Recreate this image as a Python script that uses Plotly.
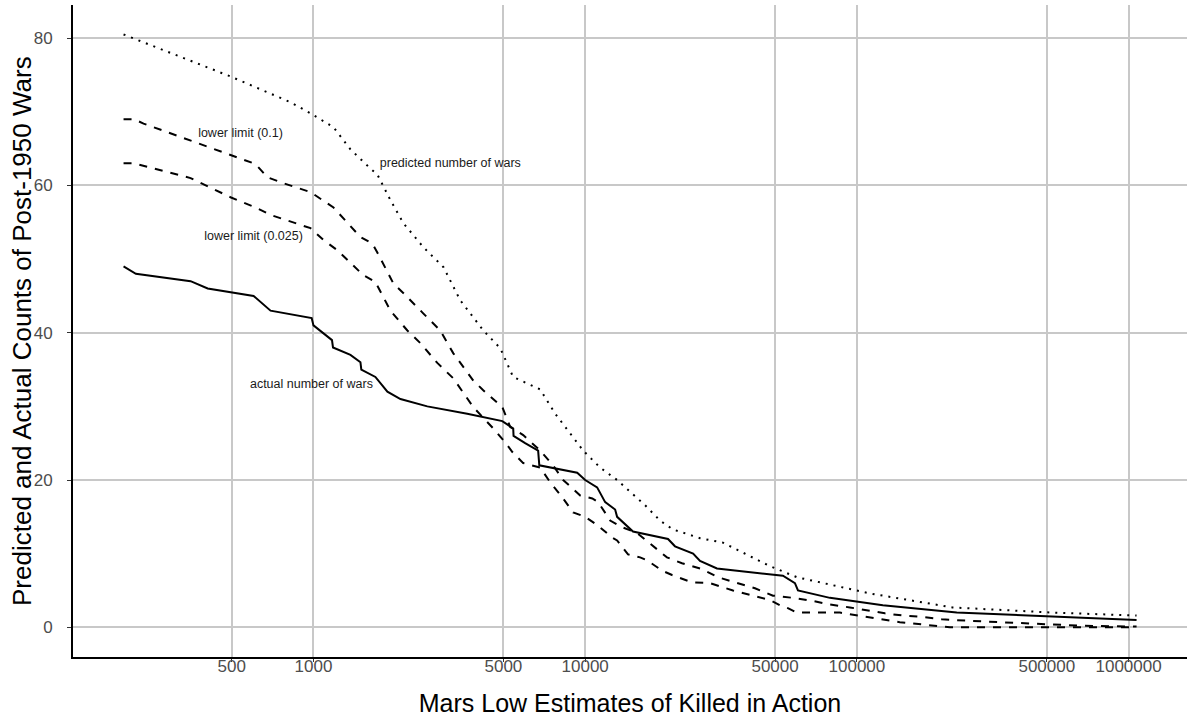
import plotly.graph_objects as go

# ---- data ----
actual_kia = [200, 222, 353, 408, 602, 649, 695, 985, 1000, 1170, 1180, 1368, 1489, 1500, 1690,
              1871, 2090, 2624, 3681, 4955, 5435, 5450, 6012, 6713, 6780, 9346, 10000, 11066,
              11846, 12890, 13110, 15000, 20180, 21410, 24960, 26470, 30550, 53430, 59160,
              60700, 79580, 124600, 233100, 1070000]
actual_wars = [49, 48, 47, 46, 45, 44, 43, 42, 41, 39, 38, 37, 36, 35, 34,
               32, 31, 30, 29, 28, 27, 26, 25, 24, 22, 21, 20, 19,
               17, 16, 15, 13, 12, 11, 10, 9, 8, 7, 6,
               5, 4, 3, 2, 1]

pred_kia = [200, 495, 823, 975, 1185, 1368, 1620, 1718, 1920, 2140, 2540, 3010, 3470, 4220,
            4870, 5430, 6830, 7760, 9830, 11350, 13110, 16600, 18850, 21020, 26470, 32130,
            47900, 60200, 111500, 225000, 525000, 1070000]
pred_wars = [80.5, 74.8, 71.3, 69.8, 67.9, 64.9, 62.3, 61.5, 58.0, 54.9, 51.6, 48.9, 44.4, 40.3,
             37.9, 34.0, 32.3, 29.0, 24.0, 21.7, 20.0, 16.6, 14.5, 13.3, 12.1, 11.5,
             8.3, 6.8, 4.6, 2.7, 2.0, 1.6]

low10_kia = [200, 218, 237, 602, 622, 678, 776, 975, 1185, 1489, 1648, 1718, 1968, 2140, 2540,
             2929, 3272, 3875, 4215, 4955, 5300, 5915, 6830, 7620, 8300, 9590, 10620, 11170,
             12360, 13680, 15530, 17630, 20000, 22720, 26930, 30810, 36520, 42170, 49110,
             58170, 68350, 79580, 94220, 108800, 126800, 147600, 174900, 205300, 225400,
             335700, 503900, 688800, 1070000]
low10_wars = [69, 69, 68.4, 63, 62.6, 61.1, 60.3, 59.1, 57, 53, 52.1, 50.9, 46.7, 45.4, 42.6,
              40.3, 37.2, 33.5, 32.2, 29.9, 27.2, 26.1, 24, 22, 20, 17.9, 17.5, 17,
              14.5, 13.6, 12.8, 11.1, 9.5, 8.7, 7.9, 6.8, 6.0, 5.3, 4.3,
              4.0, 3.6, 3.1, 2.7, 2.3, 1.9, 1.6, 1.4, 1.1, 1.0,
              0.7, 0.4, 0.2, 0.1]

low025_kia = [200, 218, 353, 495, 612, 695, 975, 1088, 1225, 1527, 1690, 1920, 2216, 2472, 2856,
              3272, 3875, 4590, 5080, 5395, 5915, 6830, 7430, 8220, 9030, 10000, 11066, 12560,
              13110, 14380, 15930, 16900, 19190, 20880, 24720, 28810, 34990, 41490, 47900,
              52120, 55720, 60090, 86600, 143900, 219800, 1070000]
low025_wars = [63, 63, 61, 58.4, 57, 56, 54.2, 52.6, 51.2, 47.8, 46.9, 43, 40.3, 38.6, 35.9,
               33.8, 29.9, 27, 25.1, 23.8, 22.3, 21.7, 19.7, 17.7, 15.6, 15, 13.9, 12.2,
               11.8, 9.9, 9.5, 9.1, 7.7, 7.1, 6.1, 6.0, 5.0, 4.3, 3.7,
               3.0, 2.6, 2.0, 2.0, 0.7, 0, 0]

label_text = ["lower limit (0.1)", "lower limit (0.025)", "predicted number of wars", "actual number of wars"]
label_x = [539, 602, 3189, 983]
label_y = [67.0, 53.0, 62.9, 32.9]

x_ticks = [500, 1000, 5000, 10000, 50000, 100000, 500000, 1000000]
x_tick_text = ["500", "1000", "5000", "10000", "50000", "100000", "500000", "1000000"]
y_ticks = [0, 20, 40, 60, 80]

FONT = "Liberation Sans, Arial, sans-serif"

fig = go.Figure()
fig.add_trace(go.Scatter(x=pred_kia, y=pred_wars, mode="lines",
                         line=dict(color="black", width=2, dash="2px,6px"), name="predicted"))
fig.add_trace(go.Scatter(x=low10_kia, y=low10_wars, mode="lines",
                         line=dict(color="black", width=2, dash="8px,8px"), name="lower limit (0.1)"))
fig.add_trace(go.Scatter(x=low025_kia, y=low025_wars, mode="lines",
                         line=dict(color="black", width=2, dash="8px,8px"), name="lower limit (0.025)"))
fig.add_trace(go.Scatter(x=actual_kia, y=actual_wars, mode="lines",
                         line=dict(color="black", width=2), name="actual"))
fig.add_trace(go.Scatter(x=label_x, y=label_y, mode="text", text=label_text,
                         textposition="middle center",
                         textfont=dict(family=FONT, size=12.5, color="#1a1a1a")))

fig.update_layout(
    width=1191, height=720,
    margin=dict(l=73, r=4, t=5, b=63),
    paper_bgcolor="white", plot_bgcolor="white",
    showlegend=False,
    font=dict(family=FONT),
    xaxis=dict(
        type="log", range=[2.115, 6.215], automargin=False,
        tickvals=x_ticks, ticktext=x_tick_text,
        showgrid=True, gridcolor="#c8c8c8", gridwidth=1.6,
        zeroline=False,
        showline=True, linecolor="black", linewidth=1.8,
        ticks="outside", ticklen=3, tickcolor="#333333", tickwidth=1,
        ticklabelstandoff=-10,
        tickfont=dict(family=FONT, size=17, color="#4d4d4d"),
        title=dict(text="Mars Low Estimates of Killed in Action",
                   font=dict(family=FONT, size=25, color="black"), standoff=19),
    ),
    yaxis=dict(
        range=[-4.03, 84.5], automargin=False,
        tickvals=y_ticks,
        showgrid=True, gridcolor="#c8c8c8", gridwidth=1.6,
        zeroline=False,
        showline=True, linecolor="black", linewidth=1.8,
        ticks="outside", ticklen=4, tickcolor="#333333", tickwidth=1,
        ticklabelstandoff=11,
        tickfont=dict(family=FONT, size=17, color="#4d4d4d"),
    ),
    annotations=[dict(
        text="Predicted and Actual Counts of Post-1950 Wars",
        xref="paper", yref="paper", x=(22 - 73) / 1114, y=0.5,
        xanchor="center", yanchor="middle", textangle=-90, showarrow=False,
        font=dict(family=FONT, size=26, color="black"),
    )],
)

fig.write_html(
    "out.html",
    config={"displayModeBar": False},
    post_script="document.body.style.margin='0px';document.body.style.padding='0px';",
)
